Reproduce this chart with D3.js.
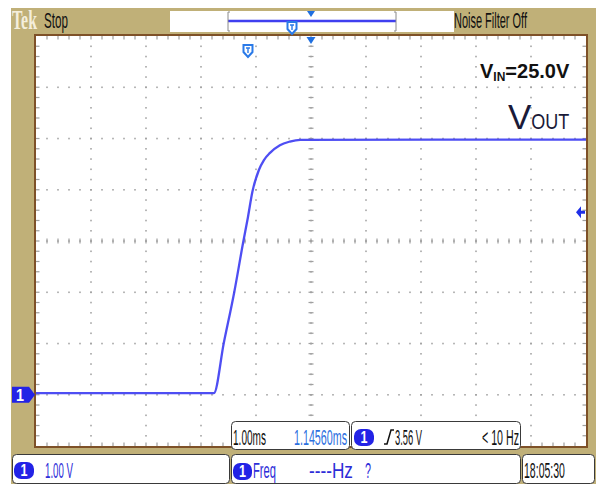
<!DOCTYPE html>
<html>
<head>
<meta charset="utf-8">
<script src="https://cdn.jsdelivr.net/npm/d3@7"></script>
<style>
  html, body { margin: 0; padding: 0; background: #ffffff; }
  svg { display: block; }
</style>
</head>
<body>
<div id="scope"></div>
<script>
// Channel 1 capture: output voltage start-up, 1.00 V/div, 1.00 ms/div
const timeMs = [-3.86, -0.62, -0.44, -0.25, -0.09, 0.0, 0.08, 0.2, 0.29, 0.4, 0.58, 0.76, 0.95, 6.15];
const voutV  = [0.03, 0.03, 1.01, 2.0, 2.96, 3.47, 3.96, 4.39, 4.58, 4.72, 4.87, 4.94, 4.975, 4.98];

// Instrument settings shown in the readouts
const voltsPerDiv = 1.00;
const timePerDiv = 1.00;        // ms
const horizPosMs = 1.14560;     // centre of screen relative to trigger
const triggerLevelV = 3.56;
const groundDivBelowCentre = 3; // channel 1 ground marker position
const hDivs = 10, vDivs = 8;

const readouts = {
  scale: "1.00 V",
  time: "1.00ms",
  pos: "1.14560ms",
  trig: "3.56 V",
  trigFreq: "< 10 Hz",
  meas: "Freq",
  measVal: "----Hz",
  clock: "18:05:30",
  filter: "Noise Filter Off",
  state: "Stop"
};

const W = 597, H = 484;
const P = { x0: 36, x1: 586, y0: 36, y1: 446 };
const KHAKI = "#c0b078", FRAME = "#7e5128", BLUE = "#2323e6", TRACE = "#3b3bf2";
const SANS = "'Liberation Sans', Arial, sans-serif";
const RS = 22; // readout font size

const svg = d3.select("#scope").append("svg").attr("width", W).attr("height", H);

// division scales for the graticule
const gx = d3.scaleLinear().domain([0, hDivs]).range([P.x0, P.x1]);
const gy = d3.scaleLinear().domain([0, vDivs]).range([P.y0, P.y1]);
// data scales
const x = d3.scaleLinear()
  .domain([horizPosMs - hDivs / 2 * timePerDiv, horizPosMs + hDivs / 2 * timePerDiv])
  .range([P.x0, P.x1]);
const vBottom = -(vDivs / 2 - groundDivBelowCentre) * voltsPerDiv;
const y = d3.scaleLinear()
  .domain([vBottom, vBottom + vDivs * voltsPerDiv])
  .range([P.y1, P.y0]);

// bezel
svg.append("rect").attr("x", 11).attr("y", 8).attr("width", 585).attr("height", 476).attr("fill", KHAKI);

// screen
svg.append("rect").attr("x", P.x0).attr("y", P.y0).attr("width", P.x1 - P.x0).attr("height", P.y1 - P.y0)
  .attr("fill", "#ffffff");

// graticule
const grid = svg.append("g").attr("fill", "#a0a0a0");
for (let i = 1; i < hDivs; i++) {
  for (let k = 1; k < vDivs * 5; k++) {
    grid.append("rect").attr("x", gx(i) - 0.75).attr("y", gy(k / 5) - 0.75).attr("width", 1.5).attr("height", 1.6);
  }
}
for (let j = 1; j < vDivs; j++) {
  for (let k = 1; k < hDivs * 5; k++) {
    grid.append("rect").attr("x", gx(k / 5) - 0.75).attr("y", gy(j) - 0.75).attr("width", 1.5).attr("height", 1.6);
  }
}
// centre-line ticks
for (let k = 1; k < vDivs * 5; k++) {
  grid.append("rect").attr("x", gx(hDivs / 2) - 2.5).attr("y", gy(k / 5) - 0.6).attr("width", 5).attr("height", 1.2);
}
for (let k = 1; k < hDivs * 5; k++) {
  grid.append("rect").attr("x", gx(k / 5) - 0.6).attr("y", gy(vDivs / 2) - 2.5).attr("width", 1.2).attr("height", 5);
}
// edge ticks
for (let k = 1; k < hDivs * 5; k++) {
  grid.append("rect").attr("x", gx(k / 5) - 0.6).attr("y", P.y0).attr("width", 1.2).attr("height", 3.5);
  grid.append("rect").attr("x", gx(k / 5) - 0.6).attr("y", P.y1 - 3.5).attr("width", 1.2).attr("height", 3.5);
}
for (let k = 1; k < vDivs * 5; k++) {
  grid.append("rect").attr("x", P.x0).attr("y", gy(k / 5) - 0.6).attr("width", 3.5).attr("height", 1.2);
  grid.append("rect").attr("x", P.x1 - 3.5).attr("y", gy(k / 5) - 0.6).attr("width", 3.5).attr("height", 1.2);
}

// trace
const pts = timeMs.map((t, i) => ({ t, v: voutV[i] }));
svg.append("path").datum(pts)
  .attr("d", d3.line().x(d => x(d.t)).y(d => y(d.v)).curve(d3.curveMonotoneX))
  .attr("fill", "none").attr("stroke", TRACE).attr("stroke-width", 2.3).attr("stroke-opacity", 0.9);

// screen frame
svg.append("rect").attr("x", P.x0 - 1).attr("y", P.y0 - 1).attr("width", P.x1 - P.x0 + 2).attr("height", P.y1 - P.y0 + 2)
  .attr("fill", "none").attr("stroke", FRAME).attr("stroke-width", 2);

// condensed readout text: natural glyphs squeezed horizontally to the given width
function txt(g, s, x0, yb, size, w, fill, opts = {}) {
  const t = g.append("text").attr("x", 0).attr("y", 0).attr("font-size", size)
    .attr("font-family", opts.family || SANS).attr("fill", fill).text(s);
  if (opts.weight) t.attr("font-weight", opts.weight);
  const natural = t.node().getComputedTextLength();
  const sx = w && natural ? w / natural : 1;
  t.attr("transform", `translate(${x0},${yb}) scale(${sx},1)`);
  return t;
}

// top status bar
txt(svg, "Tek", 12, 29, 28, 25, "#f4eedc", { family: "'Liberation Serif', 'DejaVu Serif', serif", weight: "bold" });
txt(svg, readouts.state, 44, 28, RS, 24, "#111");
svg.append("rect").attr("x", 170).attr("y", 11).attr("width", 284).attr("height", 21).attr("fill", "#ffffff");
// record window bar
const recX0 = 228, recX1 = 396;
svg.append("line").attr("x1", recX0).attr("x2", recX1).attr("y1", 21).attr("y2", 21)
  .attr("stroke", "#3f3ff0").attr("stroke-width", 2.4);
[[recX0, 1], [recX1, -1]].forEach(([bx, d]) => {
  svg.append("path").attr("d", `M${bx + 2 * d},12 H${bx} V31 H${bx + 2 * d}`)
    .attr("fill", "none").attr("stroke", "#8a8a8a").attr("stroke-width", 1);
});
txt(svg, readouts.filter, 454, 28, RS, 73, "#111");

// trigger-position markers
const trigX = x(0), centreX = gx(hDivs / 2);
function tMarker(cx, top) {
  svg.append("path")
    .attr("d", `M${cx - 4.5},${top} H${cx + 4.5} V${top + 7} L${cx},${top + 12} L${cx - 4.5},${top + 7} Z`)
    .attr("fill", "#ffffff").attr("stroke", "#2a7ae8").attr("stroke-width", 2);
  svg.append("path").attr("d", `M${cx - 2},${top + 3} H${cx + 2} M${cx},${top + 3} V${top + 8}`)
    .attr("stroke", "#2a7ae8").attr("stroke-width", 1.4);
}
tMarker(292, 22);
tMarker(trigX, 45);
svg.append("path").attr("d", `M${centreX - 4},11 H${centreX + 4} L${centreX},17 Z`).attr("fill", "#1f6fe0");
svg.append("path").attr("d", `M${centreX - 4.5},37 H${centreX + 4.5} L${centreX},44 Z`).attr("fill", "#1f6fe0");

// trigger level arrow on right edge
const ty = y(triggerLevelV);
svg.append("path").attr("d", `M${P.x1 - 10},${ty} L${P.x1 - 5},${ty - 6} V${ty - 1.5} H${P.x1 - 1} V${ty + 1.5} H${P.x1 - 5} V${ty + 6} Z`)
  .attr("fill", "#1f2fe8");

// channel 1 ground marker
const gyv = y(0);
svg.append("path").attr("d", `M12,${gyv - 8} H29 L35,${gyv} L29,${gyv + 8} H12 Z`).attr("fill", BLUE);
txt(svg, "1", 16, gyv + 6, 17, 8, "#fff", { weight: "bold" });

// annotations
const ann = svg.append("g").attr("font-family", SANS);
const vin = ann.append("text").attr("x", 480).attr("y", 78).attr("font-size", 20).attr("font-weight", "bold").attr("fill", "#111");
vin.append("tspan").text("V");
vin.append("tspan").attr("font-size", 12).attr("dy", 3).text("IN");
vin.append("tspan").attr("dy", -3).text("=25.0V");
const vo = ann.append("text").attr("x", 508).attr("y", 129).attr("fill", "#1a1a38");
vo.append("tspan").attr("font-size", 35).text("V");
vo.append("tspan").attr("font-size", 22).attr("textLength", 38).attr("lengthAdjust", "spacingAndGlyphs").text("OUT");

// readout boxes
function box(x0, y0, w, h) {
  svg.append("rect").attr("x", x0 + 0.5).attr("y", y0 + 0.5).attr("width", w).attr("height", h).attr("rx", 4)
    .attr("fill", "#ffffff").attr("stroke", "#3a3a3a").attr("stroke-width", 1);
}
function badge(x0, y0, w, h) {
  svg.append("rect").attr("x", x0).attr("y", y0).attr("width", w).attr("height", h).attr("rx", h / 2.4).attr("fill", BLUE);
  txt(svg, "1", x0 + w / 2 - 3.5, y0 + h - 3, 17, 7, "#fff", { weight: "bold" });
}

box(231, 421, 118, 28);
txt(svg, readouts.time, 233, 445, RS, 33, "#111");
txt(svg, readouts.pos, 294, 445, RS, 53, "#2d6fe0");

box(351, 421, 169, 28);
badge(354, 429, 20, 17);
svg.append("path").attr("d", "M384,444 H387 L391,430 H394").attr("fill", "none").attr("stroke", "#111").attr("stroke-width", 1.5);
txt(svg, readouts.trig, 395, 445, RS, 27, "#111");
txt(svg, readouts.trigFreq, 482, 445, RS, 37, "#111");

box(12, 454, 217, 29);
badge(14, 462, 20, 17);
txt(svg, readouts.scale, 45, 478, RS, 28, "#2d2dd8");

box(231, 454, 289, 29);
badge(233, 463, 19, 17);
txt(svg, readouts.meas, 253, 478, RS, 23, "#2d2dd8");
txt(svg, readouts.measVal, 309, 478, RS, 44, "#2d2dd8");
txt(svg, "?", 365, 478, RS, 6, "#2d2dd8");

box(522, 454, 72, 29);
txt(svg, readouts.clock, 524, 478, RS, 41, "#111");
</script>
</body>
</html>
